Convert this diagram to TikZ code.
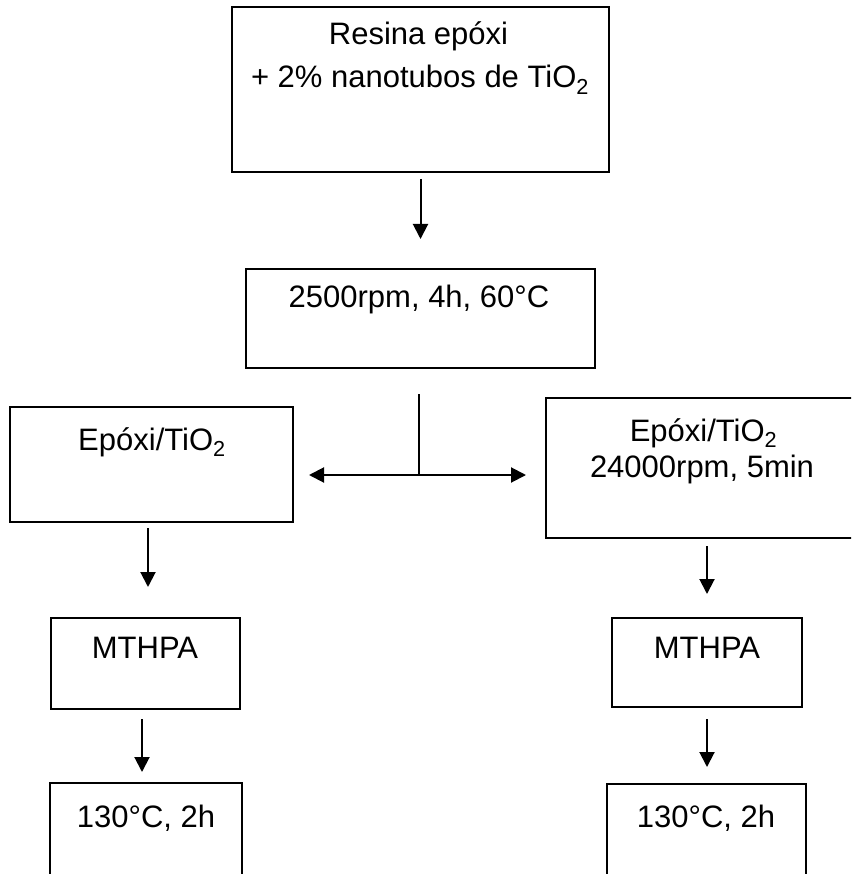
\documentclass[tikz,border=0pt]{standalone}
\usepackage{fontspec}
\setmainfont{Liberation Sans}
\usetikzlibrary{positioning,calc,arrows.meta}

\begin{document}
\begin{tikzpicture}[
		x=1pt,
		y=-1pt,
		>={Triangle[length=15pt,width=15pt]},
		box/.style={
			draw=black,
			line width=2pt,
			fill=white,
			inner sep=0pt
		},
		boxtxt/.style={
			font=\fontsize{31}{36}\selectfont,
			text=black,
			inner sep=0pt,
			anchor=base
		},
		arrow/.style={->, line width=2pt, draw=black}
	]
	
	% Canvas
	\useasboundingbox (0,0) rectangle (851,874);
	\clip (0,0) rectangle (851,874);
	
	% Boxes
	\node[box, minimum width=377pt, minimum height=165pt] (resina) at (420.5,89.5) {};
	\node[box, minimum width=349pt, minimum height=99pt] (mix) at (420.5,318.5) {};
	\node[box, minimum width=283pt, minimum height=115pt] (epoxiL) at (151.5,464.5) {};
	\node[box, minimum width=334pt, minimum height=140pt] (epoxiR) at (713,468) {};
	\node[box, minimum width=189pt, minimum height=91pt] (mthpaL) at (145.5,663.5) {};
	\node[box, minimum width=190pt, minimum height=89pt] (mthpaR) at (707,662.5) {};
	\node[box, minimum width=192pt, minimum height=117pt] (cureL) at (146,841.5) {};
	\node[box, minimum width=199pt, minimum height=116pt] (cureR) at (706.5,842) {};
	
	% Box text
	\node[boxtxt] (tresina1) at (418.5,45) {Resina epóxi};
	\node[boxtxt, text depth=0pt] (tresina2) at (420,88) {+ 2\% nanotubos de TiO\textsubscript{2}};
	\node[boxtxt] (tmix) at (419,307) {2500rpm, 4h, 60°C};
	\node[boxtxt] (tepoxiL) at (152,450) {Epóxi/TiO\textsubscript{2}};
	\node[boxtxt, text depth=0pt] (tepoxiR1) at (703.5,441) {Epóxi/TiO\textsubscript{2}};
	\node[boxtxt, text height=22pt] (tepoxiR2) at (702,477) {24000rpm, 5min};
	\node[boxtxt] (tmthpaL) at (145,658) {MTHPA};
	\node[boxtxt] (tmthpaR) at (707,658) {MTHPA};
	\node[boxtxt] (tcureL) at (146,827) {130°C, 2h};
	\node[boxtxt] (tcureR) at (706,827) {130°C, 2h};
	
	% Split point
	\coordinate (split) at (419,475);
	
	% Arrows
	\draw[arrow, shorten <=6pt, shorten >=29pt] (resina.south) -- (mix.north);
	\draw[line width=2pt, shorten <=25pt] (mix.south -| split) -- (split);
	\draw[arrow, shorten >=15pt] (split) -- (split -| epoxiL.east);
	\draw[arrow, shorten >=19pt] (split) -- (split -| epoxiR.west);
	\draw[arrow, shorten <=5pt, shorten >=30pt] ([xshift=-3.5pt]epoxiL.south) -- ([xshift=-3.5pt]epoxiL.south |- mthpaL.north);
	\draw[arrow, shorten <=9pt, shorten >=10pt] ([xshift=-3.5pt]mthpaL.south) -- ([xshift=-3.5pt]mthpaL.south |- cureL.north);
	\draw[arrow, shorten <=7pt, shorten >=23pt] (epoxiR.south -| mthpaR.north) -- (mthpaR.north);
	\draw[arrow, shorten <=11pt, shorten >=16pt] (mthpaR.south) -- (mthpaR.south |- cureR.north);
	
\end{tikzpicture}
\end{document}
